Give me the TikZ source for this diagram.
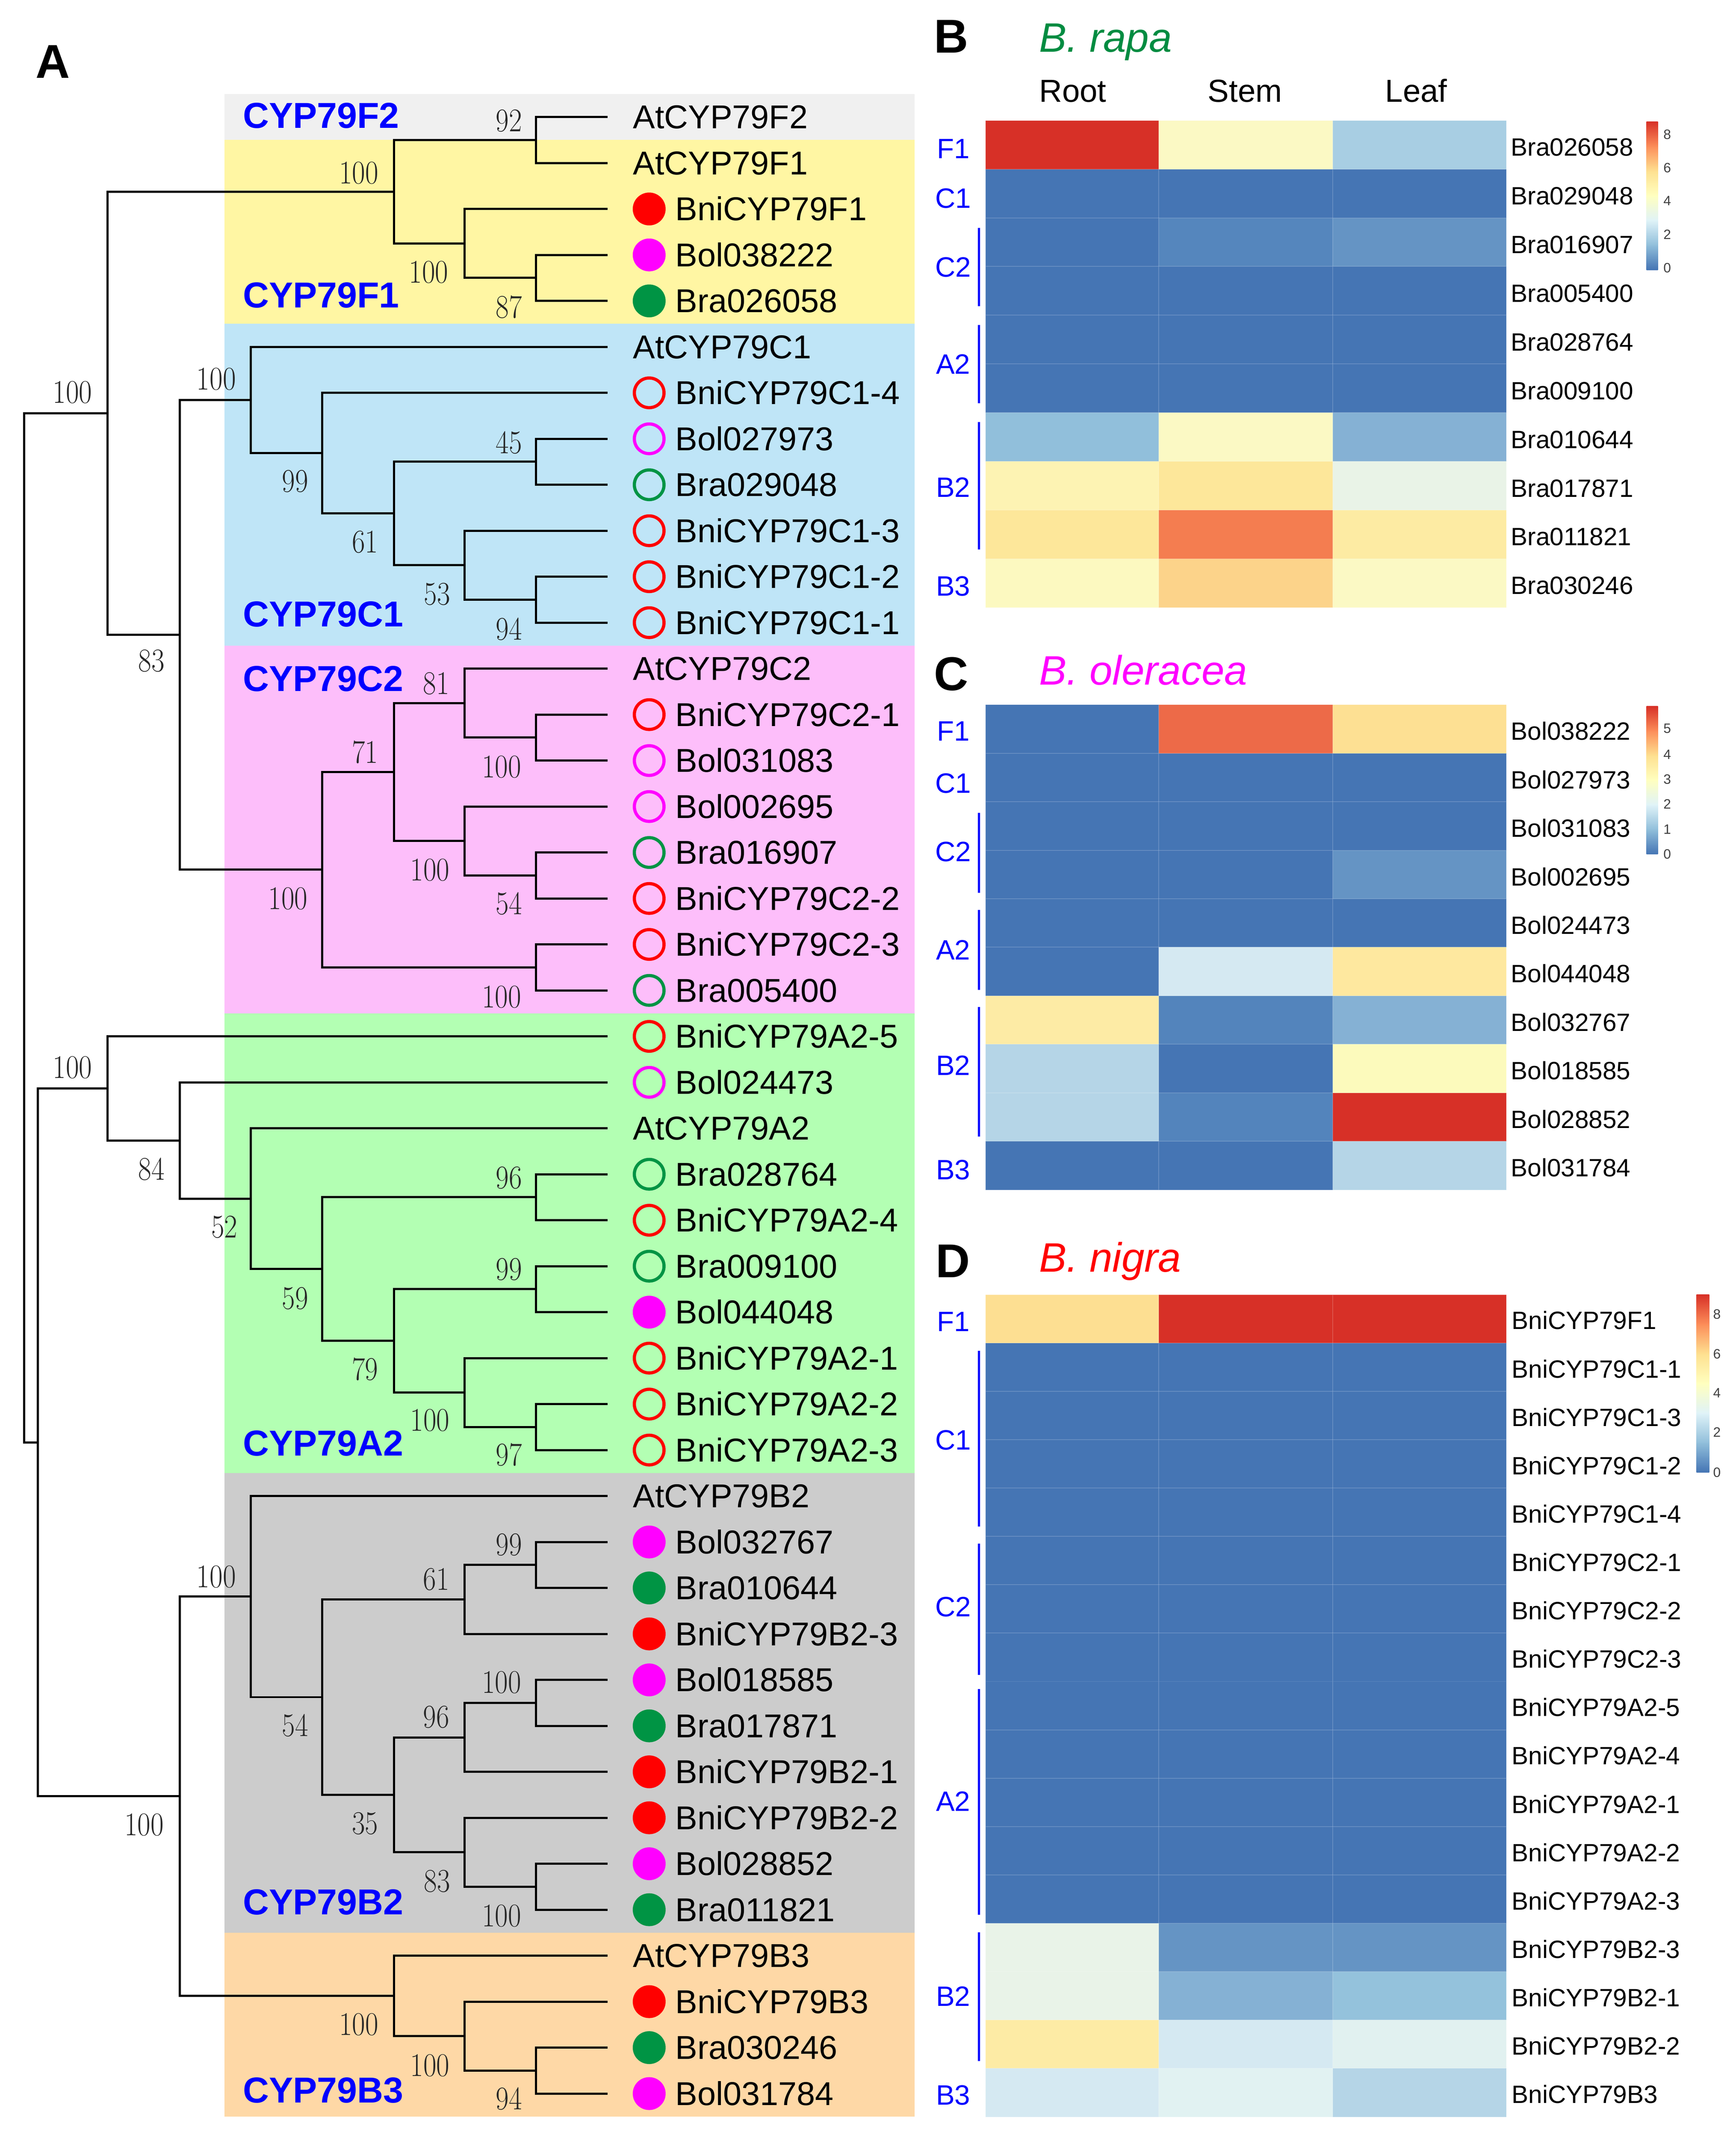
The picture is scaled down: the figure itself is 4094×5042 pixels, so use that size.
\documentclass[tikz,border=0pt]{standalone}
\usepackage{fontspec}
\setmainfont{Liberation Sans}
\newcommand\serifnum{\fontfamily{lmr}\selectfont}
\definecolor{cBlue}{RGB}{0,0,255}
\definecolor{cR}{RGB}{255,0,0}
\definecolor{cM}{RGB}{255,0,255}
\definecolor{cG}{RGB}{0,148,68}
\definecolor{cGt}{RGB}{0,140,65}
\definecolor{bgFtwo}{RGB}{240,240,240}
\definecolor{bgFone}{RGB}{255,246,163}
\definecolor{bgCone}{RGB}{191,229,247}
\definecolor{bgCtwo}{RGB}{253,190,250}
\definecolor{bgAtwo}{RGB}{179,255,179}
\definecolor{bgBtwo}{RGB}{204,204,204}
\definecolor{bgBthree}{RGB}{254,216,166}
\definecolor{hB}{HTML}{4575B4}
\definecolor{hBb}{HTML}{5586BD}
\definecolor{hBc}{HTML}{6594C4}
\definecolor{hRed}{HTML}{D73027}
\definecolor{hPY}{HTML}{FBF9C4}
\definecolor{hLBa}{HTML}{A8CEE3}
\definecolor{hBd}{HTML}{91BFDB}
\definecolor{hBe}{HTML}{85B1D4}
\definecolor{hYa}{HTML}{FDF3B3}
\definecolor{hYb}{HTML}{FDE79A}
\definecolor{hGa}{HTML}{E9F3E7}
\definecolor{hOr}{HTML}{F47D50}
\definecolor{hYc}{HTML}{FDEBA3}
\definecolor{hYd}{HTML}{FCF9C0}
\definecolor{hYe}{HTML}{FCD38A}
\definecolor{hOrb}{HTML}{ED6A48}
\definecolor{hYf}{HTML}{FDE093}
\definecolor{hLBb}{HTML}{D5E9F2}
\definecolor{hYg}{HTML}{FEE89F}
\definecolor{hYh}{HTML}{FDEBA5}
\definecolor{hBf}{HTML}{5384BC}
\definecolor{hLBc}{HTML}{B5D5E7}
\definecolor{hYi}{HTML}{FCFABC}
\definecolor{hYj}{HTML}{FDDF92}
\definecolor{hGb}{HTML}{E9F3E8}
\definecolor{hLBd}{HTML}{94C2DC}
\definecolor{hLBe}{HTML}{E1F1F0}
\definecolor{hLBf}{HTML}{E1F2F2}
\definecolor{rba}{HTML}{4575B4}
\definecolor{rbb}{HTML}{91BFDB}
\definecolor{rbc}{HTML}{E0F3F8}
\definecolor{rbd}{HTML}{FFFFBF}
\definecolor{rbe}{HTML}{FEE090}
\definecolor{rbf}{HTML}{FC8D59}
\definecolor{rbg}{HTML}{D73027}
\newcommand\mycbar[4]{%
  \foreach \k/\ca/\cb in {0/rba/rbb,1/rbb/rbc,2/rbc/rbd,3/rbd/rbe,4/rbe/rbf,5/rbf/rbg}{
    \shade[bottom color=\ca, top color=\cb] (#1,{#4-(#4-#3)*\k/6+0.6}) rectangle (#2,{#4-(#4-#3)*(\k+1)/6-0.6});
  }}
\begin{document}
\begin{tikzpicture}[x=1pt,y=-1pt,
  tree/.style={line width=5pt, black, line join=miter},
  leaf/.style={anchor=west, inner sep=0pt, font=\fontsize{78}{82}\selectfont, text height=55pt, text depth=0pt},
  dotmk/.style={circle, line width=7.5pt, minimum size=70pt, inner sep=0pt},
  grp/.style={anchor=west, inner sep=0pt, font=\bfseries\fontsize{85}{90}\selectfont, text=cBlue, text height=60pt, text depth=0pt},
  bs/.style={inner sep=0pt, font=\serifnum\fontsize{78}{80}\selectfont, text height=50pt, text depth=0pt, text=black!85},
  panel/.style={inner sep=0pt, font=\bfseries\fontsize{112}{120}\selectfont, text height=80pt, text depth=0pt},
  spec/.style={anchor=west, inner sep=0pt, font=\itshape\fontsize{97}{100}\selectfont, text height=68pt, text depth=0pt},
  colh/.style={inner sep=0pt, font=\fontsize{75}{80}\selectfont, text height=54pt, text depth=0pt},
  rowl/.style={anchor=west, inner sep=0pt, font=\fontsize{59}{64}\selectfont, text height=42pt, text depth=0pt},
  clu/.style={inner sep=0pt, font=\fontsize{66}{70}\selectfont, text=cBlue, text height=47pt, text depth=0pt},
  tick/.style={inner sep=0pt, font=\fontsize{32}{36}\selectfont, text=black!75, text height=22pt, text depth=0pt},
  cell/.style={draw=white, draw opacity=0.12, line width=2pt},
  cbarline/.style={cBlue, line width=5pt}]
\useasboundingbox (0,0) rectangle (4094,5042);
\fill[white] (0,0) rectangle (4094,5042);

% ---------- Panel A: backgrounds ----------
\fill[bgFtwo]   (529,222)    rectangle (2157,330.2);
\fill[bgFone]   (529,330.2)  rectangle (2157,763.8);
\fill[bgCone]   (529,763.8)  rectangle (2157,1522.6);
\fill[bgCtwo]   (529,1522.6) rectangle (2157,2389.8);
\fill[bgAtwo]   (529,2389.8) rectangle (2157,3473.8);
\fill[bgBtwo]   (529,3473.8) rectangle (2157,4557.8);
\fill[bgBthree] (529,4557.8) rectangle (2157,4991.4);

\node[panel] (pA) at (125,144) {A};

% group labels
\node[grp] (gF2) at (573,272) {CYP79F2};
\node[grp] (gF1) at (573,696) {CYP79F1};
\node[grp] (gC1) at (573,1448) {CYP79C1};
\node[grp] (gC2) at (573,1600) {CYP79C2};
\node[grp] (gA2) at (573,3403) {CYP79A2};
\node[grp] (gB2) at (573,4485) {CYP79B2};
\node[grp] (gB3) at (573,4929) {CYP79B3};

% leaf tips
\foreach \i in {0,...,43}{\coordinate (l\i) at (1433,{276+108.4*\i});}

% internal nodes
\coordinate (nF2F1) at (1264,330.2);
\coordinate (nBBF) at (1264,655.4);
\coordinate (nF1s) at (1096,574.1);
\coordinate (nF) at (929,452.2);
\coordinate (nC1a) at (1264,1089);
\coordinate (nC1b) at (1264,1414.2);
\coordinate (nC1c) at (1096,1332.9);
\coordinate (nC1d) at (929,1211);
\coordinate (nC1e) at (760,1068.7);
\coordinate (nC1) at (591,943.3);
\coordinate (nC2a) at (1264,1739.4);
\coordinate (nC2b) at (1096,1658.1);
\coordinate (nC2c) at (1264,2064.6);
\coordinate (nC2d) at (1096,1983.3);
\coordinate (nC2e) at (929,1820.7);
\coordinate (nC2f) at (1264,2281.4);
\coordinate (nC2) at (760,2051);
\coordinate (nC) at (424,1497.2);
\coordinate (nU) at (254,974.7);
\coordinate (nA2a) at (1264,2823.4);
\coordinate (nA2b) at (1264,3040.2);
\coordinate (nA2c) at (1264,3365.4);
\coordinate (nA2d) at (1096,3284.1);
\coordinate (nA2e) at (929,3162.2);
\coordinate (nA2f) at (760,2992.8);
\coordinate (nA2g) at (591,2826.8);
\coordinate (nA2h) at (424,2689.6);
\coordinate (nA2) at (254,2566.8);
\coordinate (nB2a) at (1264,3690.6);
\coordinate (nB2b) at (1096,3771.9);
\coordinate (nB2c) at (1264,4015.8);
\coordinate (nB2d) at (1096,4097.1);
\coordinate (nB2e) at (1264,4449.4);
\coordinate (nB2f) at (1096,4368.1);
\coordinate (nB2g) at (929,4232.6);
\coordinate (nB2h) at (760,4002.3);
\coordinate (nB2) at (591,3765.1);
\coordinate (nB3a) at (1264,4883);
\coordinate (nB3b) at (1096,4801.7);
\coordinate (nB3) at (929,4706.9);
\coordinate (nB) at (424,4236);
\coordinate (nL) at (89,3401.4);
\coordinate (root) at (57,2188);

\foreach \p/\c in {root/nU, root/nL, nU/nF, nU/nC, nF/nF2F1, nF/nF1s,
  nF2F1/l0, nF2F1/l1, nF1s/l2, nF1s/nBBF, nBBF/l3, nBBF/l4,
  nC/nC1, nC/nC2, nC1/l5, nC1/nC1e, nC1e/l6, nC1e/nC1d, nC1d/nC1a, nC1d/nC1c,
  nC1a/l7, nC1a/l8, nC1c/l9, nC1c/nC1b, nC1b/l10, nC1b/l11,
  nC2/nC2e, nC2/nC2f, nC2e/nC2b, nC2e/nC2d, nC2b/l12, nC2b/nC2a, nC2a/l13, nC2a/l14,
  nC2d/l15, nC2d/nC2c, nC2c/l16, nC2c/l17, nC2f/l18, nC2f/l19,
  nL/nA2, nL/nB, nA2/l20, nA2/nA2h, nA2h/l21, nA2h/nA2g, nA2g/l22, nA2g/nA2f,
  nA2f/nA2a, nA2f/nA2e, nA2a/l23, nA2a/l24, nA2e/nA2b, nA2e/nA2d, nA2b/l25, nA2b/l26,
  nA2d/l27, nA2d/nA2c, nA2c/l28, nA2c/l29,
  nB/nB2, nB/nB3, nB2/l30, nB2/nB2h, nB2h/nB2b, nB2h/nB2g, nB2b/nB2a, nB2b/l33,
  nB2a/l31, nB2a/l32, nB2g/nB2d, nB2g/nB2f, nB2d/nB2c, nB2d/l36, nB2c/l34, nB2c/l35,
  nB2f/l37, nB2f/nB2e, nB2e/l38, nB2e/l39,
  nB3/l40, nB3/nB3b, nB3b/l41, nB3b/nB3a, nB3a/l42, nB3a/l43}
  {\draw[tree] (\p) |- (\c);}

% bootstrap values
\foreach \n/\x/\y/\v in {nF2F1/1200/285/92, nBBF/1200/725/87, nF1s/1011/642/100, nF/846/408/100, nU/171/925/100,
  nC1a/1200/1044/45, nC1b/1200/1484/94, nC1c/1031/1401/53, nC1d/861/1278/61, nC1e/696/1135/99, nC1/510/894/100,
  nC/357/1559/83,
  nC2a/1183/1809/100, nC2b/1029/1612/81, nC2c/1200/2131/54, nC2d/1014/2052/100, nC2e/861/1774/71, nC2f/1183/2351/100, nC2/679/2119/100,
  nA2/171/2518/100, nA2h/357/2758/84, nA2g/529/2894/52, nA2f/696/3062/59, nA2a/1200/2778/96, nA2e/861/3230/79,
  nA2b/1200/2994/99, nA2d/1014/3350/100, nA2c/1200/3431/97,
  nB/340/4303/100, nB2/510/3719/100, nB2h/696/4070/54, nB2b/1029/3725/61, nB2a/1200/3643/99, nB2g/861/4300/35,
  nB2d/1029/4049/96, nB2c/1183/3968/100, nB2f/1031/4437/83, nB2e/1183/4518/100,
  nB3/846/4774/100, nB3b/1014/4871/100, nB3a/1200/4950/94}
  {\node[bs] (bs-\n) at (\x,\y) {\scalebox{0.86}[1]{\v}};}

% Arabidopsis leaves (no marker)
\foreach \i/\t in {0/AtCYP79F2, 1/AtCYP79F1, 5/AtCYP79C1, 12/AtCYP79C2, 22/AtCYP79A2, 30/AtCYP79B2, 40/AtCYP79B3}
  {\node[leaf] (t\i) at (1493,{276+108.4*\i}) {\t};}

% Brassica leaves with markers
\foreach \i/\t/\dc/\fc in {
  2/BniCYP79F1/cR/cR, 3/Bol038222/cM/cM, 4/Bra026058/cG/cG,
  6/BniCYP79C1-4/cR/none, 7/Bol027973/cM/none, 8/Bra029048/cG/none, 9/BniCYP79C1-3/cR/none,
  10/BniCYP79C1-2/cR/none, 11/BniCYP79C1-1/cR/none,
  13/BniCYP79C2-1/cR/none, 14/Bol031083/cM/none, 15/Bol002695/cM/none, 16/Bra016907/cG/none,
  17/BniCYP79C2-2/cR/none, 18/BniCYP79C2-3/cR/none, 19/Bra005400/cG/none,
  20/BniCYP79A2-5/cR/none, 21/Bol024473/cM/none, 23/Bra028764/cG/none, 24/BniCYP79A2-4/cR/none,
  25/Bra009100/cG/none, 26/Bol044048/cM/cM, 27/BniCYP79A2-1/cR/none, 28/BniCYP79A2-2/cR/none, 29/BniCYP79A2-3/cR/none,
  31/Bol032767/cM/cM, 32/Bra010644/cG/cG, 33/BniCYP79B2-3/cR/cR, 34/Bol018585/cM/cM, 35/Bra017871/cG/cG,
  36/BniCYP79B2-1/cR/cR, 37/BniCYP79B2-2/cR/cR, 38/Bol028852/cM/cM, 39/Bra011821/cG/cG,
  41/BniCYP79B3/cR/cR, 42/Bra030246/cG/cG, 43/Bol031784/cM/cM}
  {\node[dotmk, draw=\dc, fill=\fc] (m\i) at (1531,{276+108.4*\i}) {};
   \node[leaf] (t\i) at (1593,{276+108.4*\i}) {\t};}

% ---------- Panel B ----------
\node[panel] (pB) at (2243,85) {B};
\node[spec, text=cGt] (sB) at (2451,89) {B. rapa};
\node[colh] (hRoot) at (2530,214) {Root};
\node[colh] (hStem) at (2936,214) {Stem};
\node[colh] (hLeaf) at (3340,214) {Leaf};
\foreach \j/\a/\b/\c in {0/hRed/hPY/hLBa, 1/hB/hB/hB, 2/hB/hBb/hBc, 3/hB/hB/hB, 4/hB/hB/hB,
  5/hB/hB/hB, 6/hBd/hPY/hBe, 7/hYa/hYb/hGa, 8/hYb/hOr/hYc, 9/hYd/hYe/hPY}{
  \path[cell, fill=\a] (2324,{284+114.9*\j}) rectangle (2733,{284+114.9*(\j+1)});
  \path[cell, fill=\b] (2733,{284+114.9*\j}) rectangle (3143,{284+114.9*(\j+1)});
  \path[cell, fill=\c] (3143,{284+114.9*\j}) rectangle (3553,{284+114.9*(\j+1)});
}
\foreach \j/\t in {0/Bra026058, 1/Bra029048, 2/Bra016907, 3/Bra005400, 4/Bra028764,
  5/Bra009100, 6/Bra010644, 7/Bra017871, 8/Bra011821, 9/Bra030246}
  {\node[rowl] (rB\j) at (3563,{284+114.9*(\j+0.5)+5}) {\t};}
\node[clu] (kBF1) at (2248,350) {F1};
\node[clu] (kBC1) at (2248,467) {C1};
\node[clu] (kBC2) at (2248,629) {C2};
\node[clu] (kBA2) at (2248,858) {A2};
\node[clu] (kBB2) at (2248,1149) {B2};
\node[clu] (kBB3) at (2248,1382) {B3};
\draw[cbarline] (2309,537) -- (2309,722);
\draw[cbarline] (2309,766) -- (2309,951);
\draw[cbarline] (2309,995) -- (2309,1296);
\mycbar{3883}{3910}{287}{636}
\foreach \v/\y in {8/317, 6/396, 4/474, 2/553, 0/632}
  {\node[tick] (tkB\v) at (3932,\y) {\v};}

% ---------- Panel C ----------
\node[panel] (pC) at (2243,1588) {C};
\node[spec, text=cM] (sC) at (2451,1581) {B. oleracea};
\foreach \j/\a/\b/\c in {0/hB/hOrb/hYf, 1/hB/hB/hB, 2/hB/hB/hB, 3/hB/hB/hBc, 4/hB/hB/hB,
  5/hB/hLBb/hYg, 6/hYh/hBf/hBe, 7/hLBc/hB/hYi, 8/hLBc/hBf/hRed, 9/hB/hB/hLBc}{
  \path[cell, fill=\a] (2324,{1662+114.4*\j}) rectangle (2733,{1662+114.4*(\j+1)});
  \path[cell, fill=\b] (2733,{1662+114.4*\j}) rectangle (3143,{1662+114.4*(\j+1)});
  \path[cell, fill=\c] (3143,{1662+114.4*\j}) rectangle (3553,{1662+114.4*(\j+1)});
}
\foreach \j/\t in {0/Bol038222, 1/Bol027973, 2/Bol031083, 3/Bol002695, 4/Bol024473,
  5/Bol044048, 6/Bol032767, 7/Bol018585, 8/Bol028852, 9/Bol031784}
  {\node[rowl] (rC\j) at (3563,{1662+114.4*(\j+0.5)+5}) {\t};}
\node[clu] (kCF1) at (2248,1724) {F1};
\node[clu] (kCC1) at (2248,1847) {C1};
\node[clu] (kCC2) at (2248,2008) {C2};
\node[clu] (kCA2) at (2248,2240) {A2};
\node[clu] (kCB2) at (2248,2512) {B2};
\node[clu] (kCB3) at (2248,2758) {B3};
\draw[cbarline] (2309,1917) -- (2309,2106);
\draw[cbarline] (2309,2146) -- (2309,2334);
\draw[cbarline] (2309,2375) -- (2309,2680);
\mycbar{3883}{3910}{1666}{2014}
\foreach \v/\y in {5/1718, 4/1779, 3/1838, 2/1896, 1/1956, 0/2014}
  {\node[tick] (tkC\v) at (3932,\y) {\v};}

% ---------- Panel D ----------
\node[panel] (pD) at (2247,2973) {D};
\node[spec, text=cR] (sD) at (2451,2965) {B. nigra};
\foreach \j/\a/\b/\c in {0/hYj/hRed/hRed, 1/hB/hB/hB, 2/hB/hB/hB, 3/hB/hB/hB, 4/hB/hB/hB,
  5/hB/hB/hB, 6/hB/hB/hB, 7/hB/hB/hB, 8/hB/hB/hB, 9/hB/hB/hB, 10/hB/hB/hB, 11/hB/hB/hB, 12/hB/hB/hB,
  13/hGb/hBc/hBc, 14/hGb/hBe/hLBd, 15/hYh/hLBb/hLBe, 16/hLBb/hLBf/hLBc}{
  \path[cell, fill=\a] (2324,{3053+114.06*\j}) rectangle (2733,{3053+114.06*(\j+1)});
  \path[cell, fill=\b] (2733,{3053+114.06*\j}) rectangle (3143,{3053+114.06*(\j+1)});
  \path[cell, fill=\c] (3143,{3053+114.06*\j}) rectangle (3553,{3053+114.06*(\j+1)});
}
\foreach \j/\t in {0/BniCYP79F1, 1/BniCYP79C1-1, 2/BniCYP79C1-3, 3/BniCYP79C1-2, 4/BniCYP79C1-4,
  5/BniCYP79C2-1, 6/BniCYP79C2-2, 7/BniCYP79C2-3, 8/BniCYP79A2-5, 9/BniCYP79A2-4, 10/BniCYP79A2-1,
  11/BniCYP79A2-2, 12/BniCYP79A2-3, 13/BniCYP79B2-3, 14/BniCYP79B2-1, 15/BniCYP79B2-2, 16/BniCYP79B3}
  {\node[rowl] (rD\j) at (3565,{3053+114.06*(\j+0.5)+4}) {\t};}
\node[clu] (kDF1) at (2248,3116) {F1};
\node[clu] (kDC1) at (2248,3395) {C1};
\node[clu] (kDC2) at (2248,3789) {C2};
\node[clu] (kDA2) at (2248,4248) {A2};
\node[clu] (kDB2) at (2248,4707) {B2};
\node[clu] (kDB3) at (2248,4940) {B3};
\draw[cbarline] (2309,3185) -- (2309,3600);
\draw[cbarline] (2309,3640) -- (2309,3950);
\draw[cbarline] (2309,3983) -- (2309,4516);
\draw[cbarline] (2309,4557) -- (2309,4860);
\mycbar{4001}{4031}{3053}{3472}
\foreach \v/\y in {8/3099, 6/3193, 4/3285, 2/3378, 0/3472}
  {\node[tick] (tkD\v) at (4049,\y) {\v};}
\end{tikzpicture}
\end{document}
